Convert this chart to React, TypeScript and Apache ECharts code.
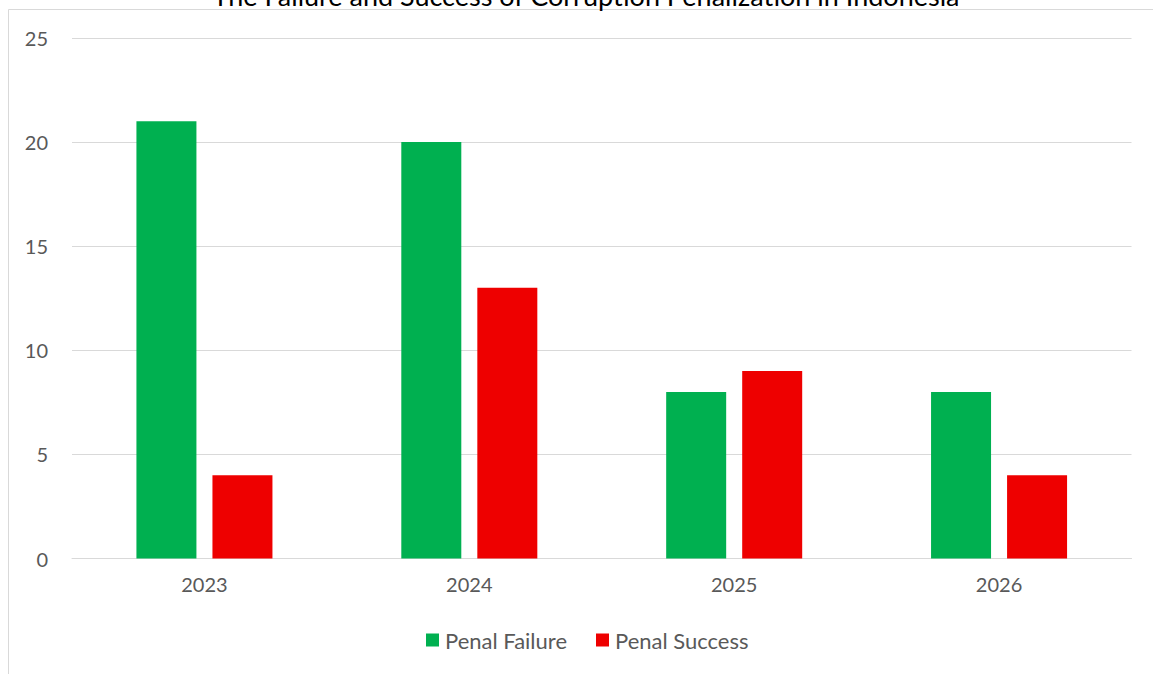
import React, { useEffect, useRef } from "react";
import * as echarts from "echarts";

const TITLE = "The Failure and Success of Corruption Penalization in Indonesia";
const years = ["2023", "2024", "2025", "2026"];
const penalFailure = [21, 20, 8, 8];
const penalSuccess = [4, 13, 9, 4];
const yTicks = { min: 0, max: 25, interval: 5 };

const FONT = "Lato, 'Open Sans', sans-serif";

export default function App() {
  const ref = useRef<HTMLDivElement>(null);
  useEffect(() => {
    if (!ref.current) return;
    const chart = echarts.init(ref.current, null, { renderer: "svg" });
    chart.setOption({
      animation: false,
      backgroundColor: "#ffffff",
      graphic: [
        {
          type: "rect",
          z: -10,
          shape: { x: 8.5, y: 9.5, width: 1300, height: 800 },
          style: { fill: "none", stroke: "#d9d9d9", lineWidth: 1 },
        },
        {
          type: "text",
          x: 586,
          y: 9,
          style: {
            text: TITLE,
            font: `27px ${FONT}`,
            fill: "#000000",
            align: "center",
            verticalAlign: "bottom",
          },
        },
      ],
      grid: { left: 72, right: 21.5, top: 38, bottom: 115.5, containLabel: false },
      legend: {
        bottom: 18,
        left: 421,
        itemWidth: 13,
        itemHeight: 13,
        itemGap: 29,
        icon: "rect",
        textStyle: { color: "#595959", fontSize: 22, fontFamily: FONT, padding: [0, 0, 0, 1] },
        data: ["Penal Failure", "Penal Success"],
      },
      xAxis: {
        type: "category",
        data: years,
        axisLine: { lineStyle: { color: "#d9d9d9", width: 1 } },
        axisTick: { show: false },
        axisLabel: { color: "#595959", fontSize: 20, fontFamily: FONT, margin: 15 },
      },
      yAxis: {
        type: "value",
        min: yTicks.min,
        max: yTicks.max,
        interval: yTicks.interval,
        axisLine: { show: false },
        axisTick: { show: false },
        splitLine: { lineStyle: { color: "#d9d9d9", width: 1 } },
        axisLabel: { color: "#595959", fontSize: 20, fontFamily: FONT, margin: 24 },
      },
      series: [
        {
          name: "Penal Failure",
          type: "bar",
          data: penalFailure,
          barWidth: 60,
          barGap: "26.7%",
          itemStyle: { color: "#00B050" },
        },
        {
          name: "Penal Success",
          type: "bar",
          data: penalSuccess,
          barWidth: 60,
          barGap: "26.7%",
          itemStyle: { color: "#EE0000" },
        },
      ],
    });
    return () => chart.dispose();
  }, []);
  return (
    <div
      ref={ref}
      style={{ position: "fixed", left: 0, top: 0, width: 1153, height: 674 }}
    />
  );
}
